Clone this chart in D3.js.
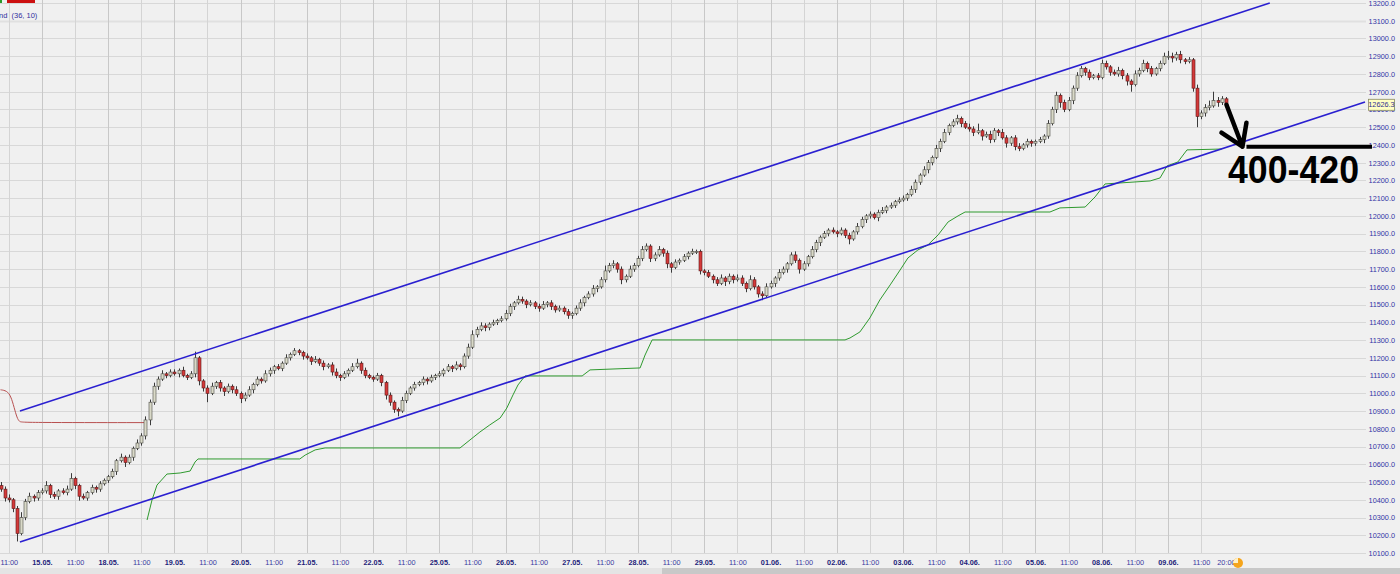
<!DOCTYPE html>
<html><head><meta charset="utf-8">
<script src="https://cdn.jsdelivr.net/npm/d3@7"></script>
<style>html,body{margin:0;padding:0;background:#f0f0f0;overflow:hidden}svg{display:block}</style>
</head><body><svg id="c" width="1400" height="574"></svg>
<script>
// ---------- DATA ----------
const dayLabels = ["15.05.","18.05.","19.05.","20.05.","21.05.","22.05.","25.05.","26.05.","27.05.","28.05.","29.05.","01.06.","02.06.","03.06.","04.06.","05.06.","08.06.","09.06."];
const hourLabel = "11:00";
const lastLabel = "20:00";
const firstOpen = 10480;
const closesByDay = [
 [10460,10410,10400,10350,10210,10300,10390,10420,10410,10440],
 [10450,10480,10430,10420,10450,10440,10460,10520,10480,10420,10410,10440,10470,10460,10490,10510],
 [10530,10560,10620,10640,10610,10640,10690,10720,10760,10850,10950,11040,11080,11110,11100,11120],
 [11110,11130,11100,11090,11110,11200,11070,11030,11000,11040,11060,11030,11010,11040,11020,11000],
 [10970,10990,11020,11050,11080,11070,11110,11130,11150,11140,11170,11200,11220,11240,11230,11210],
 [11200,11180,11190,11170,11150,11160,11120,11100,11090,11110,11130,11150,11170,11130,11100,11090],
 [11080,11100,11060,10990,10950,10910,10900,10960,11000,11030,11050,11060,11080,11070,11090,11100],
 [11110,11130,11150,11140,11160,11150,11210,11260,11330,11360,11380,11370,11390,11400,11410,11420],
 [11450,11490,11510,11530,11520,11500,11510,11490,11480,11500,11510,11490,11470,11480,11460,11440],
 [11450,11480,11510,11540,11560,11590,11600,11640,11690,11720,11730,11700,11640,11660,11700,11720],
 [11760,11810,11830,11760,11780,11810,11790,11730,11710,11740,11750,11770,11790,11800,11800,11690],
 [11680,11660,11640,11620,11650,11630,11660,11640,11650,11620,11590,11640,11600,11560,11550,11600],
 [11620,11650,11680,11700,11730,11780,11750,11700,11730,11770,11810,11850,11880,11900,11920,11910],
 [11900,11920,11890,11870,11910,11940,11980,12000,12010,11990,12020,12030,12050,12060,12080,12090],
 [12100,12120,12150,12190,12230,12260,12300,12330,12380,12420,12470,12510,12530,12550,12520,12500],
 [12490,12470,12480,12450,12460,12430,12480,12470,12440,12410,12440,12390,12380,12400,12420,12410],
 [12420,12430,12450,12520,12600,12680,12640,12600,12650,12720,12790,12830,12810,12780,12790,12780],
 [12860,12840,12810,12800,12820,12790,12760,12740,12800,12820,12860,12830,12800,12830,12860,12900],
 [12900,12890,12910,12880,12870,12880,12720,12560,12580,12610,12620,12650,12640,12660,12626.3]
];
const wickUpByDay = [
 [20,15,20,10,15,30,15,20,10,15],
 [15,25,10,15,10,15,20,30,10,10,15,10,15,10,15,10],
 [10,15,10,20,10,15,10,20,15,20,15,20,15,20,10,15],
 [15,10,20,10,15,35,10,10,15,20,10,15,10,15,10,20],
 [10,15,20,10,15,10,20,15,10,15,10,20,10,15,10,10],
 [15,10,20,10,15,10,15,20,10,15,10,20,25,10,15,10],
 [10,15,10,10,15,10,10,20,15,10,15,10,15,10,15,10],
 [15,10,15,10,20,10,15,20,25,15,20,15,10,15,10,15],
 [20,15,10,20,15,10,15,10,15,20,10,15,10,15,10,15],
 [10,15,20,10,15,20,10,15,30,15,20,10,15,10,20,15],
 [15,20,15,10,15,20,10,15,10,15,10,15,10,15,10,10],
 [10,15,10,15,20,10,15,10,20,15,10,25,15,10,15,20],
 [15,10,20,15,10,15,20,10,15,10,20,15,10,15,10,15],
 [10,15,10,15,10,20,15,10,15,10,15,20,10,15,10,15],
 [15,10,20,15,10,20,15,10,20,15,20,10,15,20,10,15],
 [20,15,40,10,15,20,15,10,20,15,10,15,20,10,15,10],
 [10,15,10,20,15,20,10,15,20,15,20,15,10,15,10,15],
 [20,15,10,15,20,10,15,10,20,15,20,10,15,10,15,20],
 [30,20,15,20,10,15,10,20,15,20,30,50,20,15,10]
];
const wickDownByDay = [
 [15,20,15,20,45,10,15,10,20,15],
 [10,15,20,15,20,10,15,10,20,25,10,15,10,20,15,10],
 [15,10,20,10,25,10,20,10,15,20,30,15,20,10,15,10],
 [10,20,10,15,10,20,25,20,50,10,15,20,25,10,20,15],
 [25,15,10,20,10,15,10,15,20,10,15,10,15,10,15,20],
 [10,20,10,15,20,10,20,15,20,10,15,10,10,20,15,10],
 [15,10,20,25,20,20,30,10,15,10,15,10,15,20,10,15],
 [10,15,10,20,10,20,10,15,10,15,10,20,15,10,15,10],
 [10,15,20,10,15,20,10,15,20,10,15,20,15,10,15,20],
 [20,10,15,20,10,15,20,10,15,10,15,20,25,15,10,15],
 [10,15,10,20,15,10,20,25,30,10,15,10,15,10,15,20],
 [15,10,20,15,10,25,15,20,10,15,20,10,15,20,25,10],
 [10,20,15,10,20,10,15,25,10,15,10,15,20,10,15,10],
 [20,10,15,30,10,15,10,20,15,10,20,10,15,10,15,10],
 [10,15,10,20,15,10,20,15,10,20,10,15,10,15,20,10],
 [15,20,10,25,10,20,15,20,10,25,15,20,15,10,15,20],
 [15,10,20,15,10,20,30,15,10,20,15,10,20,15,10,15],
 [10,15,20,10,15,20,25,40,10,15,10,20,15,10,15,10],
 [20,25,15,20,15,10,20,60,15,20,15,10,25,15,20]
];
// trend channel anchors [bar index, price]
const upperChannel = [[4.7,10900],[306.6,13200]];
const lowerChannel = [[4.7,10162],[329.6,12642]];
// trailing stop lines [bar index, price]
const redStop = [[0,11020],[1.5,11015],[2.5,10985],[3.3,10920],[4,10860],[4.6,10840],[5.2,10835],[35.4,10835]];
const greenStop = [[35.4,10286],[36.6,10399],[37.8,10483],[40.2,10545],[43.4,10551],[45.8,10562],[47,10613],[47.7,10630],[72.3,10630],[73.6,10652],[76,10681],[78.4,10692],[111,10692],[113.4,10737],[115.8,10782],[118.2,10822],[120.7,10861],[122.3,10917],[123.8,10991],[125,11047],[126.7,11098],[140.5,11098],[142.4,11132],[154.5,11143],[155.7,11216],[157.4,11301],[204,11301],[205.2,11312],[207.6,11346],[210,11425],[212.4,11526],[214.9,11611],[217.3,11695],[219.2,11763],[221.6,11808],[224,11836],[226.5,11893],[228.9,11966],[231.3,12000],[233,12022],[253.5,12022],[255.9,12045],[262,12050],[264.4,12107],[266.8,12180],[277.7,12197],[280.1,12214],[281.8,12282],[284.4,12304],[286.6,12372],[295,12377]];
const yTicks = [10100,10200,10300,10400,10500,10600,10700,10800,10900,11000,11100,11200,11300,11400,11500,11600,11700,11800,11900,12000,12100,12200,12300,12400,12500,12600,12700,12800,12900,13000,13100,13200];
const lastPrice = 12626.3;
const legendText = "nd  (36, 10)";
const annotationText = "400-420";
const annotationLevel = 12390;

// ---------- BUILD ----------
const closes = closesByDay.flat();
const wu = wickUpByDay.flat(), wd = wickDownByDay.flat();
const candles = closes.map((c,i)=>{
  const o = i===0 ? firstOpen : closes[i-1];
  return {i, o, c, h: Math.max(o,c)+wu[i], l: Math.min(o,c)-wd[i]};
});
const firstDayBars = closesByDay[0].length, barsPerDay = closesByDay[1].length;

const svg = d3.select("#c");
const x = d3.scaleLinear().domain([0,329.6]).range([0.5,1365]);
const y = d3.scaleLinear().domain([10100,13200]).range([553,3]);

svg.append("rect").attr("width",1400).attr("height",574).attr("fill","#f0f0f0");

// x tick positions
const xTicks = [{i:firstDayBars-8, t:hourLabel, bold:false}];
dayLabels.forEach((d,k)=>{
  const s = firstDayBars + k*barsPerDay;
  xTicks.push({i:s, t:d, bold:true});
  xTicks.push({i:s+8, t:hourLabel, bold:false});
});
xTicks.push({i:closes.length-1, t:lastLabel, bold:false, last:true});

// grid
const g = svg.append("g");
g.selectAll("line.h").data(yTicks).join("line").attr("class","h")
  .attr("x1",0).attr("x2",1366).attr("y1",d=>Math.round(y(d))+0.5).attr("y2",d=>Math.round(y(d))+0.5)
  .attr("stroke",(d)=>d===13100?"#e0e0e0":"#d8d8d8").attr("stroke-width",d=>d===13100?2:1);
g.selectAll("line.v").data(xTicks.filter(d=>!d.last)).join("line").attr("class","v")
  .attr("x1",d=>Math.round(x(d.i))+0.5).attr("x2",d=>Math.round(x(d.i))+0.5).attr("y1",0).attr("y2",553)
  .attr("stroke",d=>d.bold?"#c8c8c8":"#d4d4d4");

// y axis
const ya = svg.append("g").attr("transform","translate(1395,0)")
  .call(d3.axisLeft(y).tickValues(yTicks).tickFormat(d=>d.toFixed(1)).tickSize(0).tickPadding(0));
ya.select(".domain").remove();
ya.selectAll("text").attr("fill","#3535a5").style("font","7.3px 'Liberation Sans', Arial, sans-serif");

// x axis
const xa = svg.append("g").attr("transform","translate(0,553)")
  .call(d3.axisBottom(x).tickValues(xTicks.map(d=>d.i)).tickFormat((d,k)=>xTicks[k].t).tickSize(0).tickPadding(7));
xa.select(".domain").remove();
xa.selectAll("text").attr("fill",(d,k)=>xTicks[k].bold?"#1e1e7a":"#3a3aa0")
  .style("font",(d,k)=>(xTicks[k].bold?"bold ":"")+"7.3px 'Liberation Sans', Arial, sans-serif");

// stops
const line = d3.line().x(d=>x(d[0])).y(d=>y(d[1]));
svg.append("path").attr("d",line.curve(d3.curveBasis)(redStop)).attr("fill","none").attr("stroke","#b85050").attr("stroke-width",1);
svg.append("path").attr("d",d3.line().x(d=>x(d[0])).y(d=>y(d[1]))(greenStop)).attr("fill","none").attr("stroke","#2f9a2f").attr("stroke-width",1);

// candles
const cg = svg.append("g");
cg.selectAll("line").data(candles).join("line")
  .attr("x1",d=>Math.round(x(d.i))+0.5).attr("x2",d=>Math.round(x(d.i))+0.5)
  .attr("y1",d=>y(d.h)).attr("y2",d=>y(d.l)).attr("stroke","#3a3a3a").attr("stroke-width",1);
cg.selectAll("rect").data(candles).join("rect")
  .attr("x",d=>Math.round(x(d.i))-1).attr("width",3)
  .attr("y",d=>y(Math.max(d.o,d.c))).attr("height",d=>Math.max(1,Math.abs(y(d.o)-y(d.c))))
  .attr("fill",d=>d.c>=d.o?"#d9d9c8":"#d43a3a").attr("stroke",d=>d.c>=d.o?"#4a4a44":"#5a1a1a").attr("stroke-width",0.6);

// channels
[upperChannel, lowerChannel].forEach(c=>{
  svg.append("path").attr("d",d3.line().x(d=>x(d[0])).y(d=>y(d[1]))(c)).attr("fill","none")
    .attr("stroke","#2a1fd0").attr("stroke-width",1.6);
});

// last price tag
const ty = y(lastPrice);
svg.append("rect").attr("x",1368.5).attr("y",ty-5.5).attr("width",26).attr("height",11).attr("fill","#ffffc4").attr("stroke","#8a8a60").attr("stroke-width",0.8);
svg.append("text").attr("x",1381.5).attr("y",ty+2.6).attr("text-anchor","middle").attr("fill","#303090")
  .style("font","7.3px 'Liberation Sans', Arial, sans-serif").text(lastPrice.toFixed(1));

// annotation
const ay = y(annotationLevel);
const tipX = x(300);
svg.append("line").attr("x1",tipX+4).attr("x2",1372).attr("y1",ay).attr("y2",ay).attr("stroke","#000").attr("stroke-width",4);
svg.append("path").attr("d",`M${tipX-16},${ay-42} L${tipX},${ay} M${tipX-21},${ay-14} L${tipX},${ay} L${tipX+4},${ay-24}`)
  .attr("fill","none").attr("stroke","#000").attr("stroke-width",4.5).attr("stroke-linecap","round").attr("stroke-linejoin","round");
svg.append("text").attr("x",1228).attr("y",ay+36).attr("fill","#000")
  .attr("textLength",131).attr("lengthAdjust","spacingAndGlyphs")
  .style("font","bold 38px 'Liberation Sans', Arial, sans-serif").text(annotationText);

// top-left legend
svg.append("rect").attr("x",0).attr("y",0).attr("width",2).attr("height",3).attr("fill","#2a9a2a");
svg.append("rect").attr("x",7).attr("y",0).attr("width",28).attr("height",3).attr("fill","#cc1010");
svg.append("text").attr("x",-1).attr("y",18).attr("fill","#3030a0").style("font","7.5px 'Liberation Sans', Arial, sans-serif").attr("xml:space","preserve").text(legendText);

// bottom scrollbar
svg.append("rect").attr("x",0).attr("y",568).attr("width",1400).attr("height",6).attr("fill","#e4e4e4");
svg.append("rect").attr("x",662).attr("y",568).attr("width",738).attr("height",6).attr("fill","#c8c8c8");

// orange icon
const ix = 1238, iy = 563;
svg.append("circle").attr("cx",ix).attr("cy",iy).attr("r",5).attr("fill","#f5a51c");
svg.append("path").attr("d",`M${ix},${iy} L${ix},${iy-5} A5,5 0 0,0 ${ix-5},${iy} Z`).attr("fill","#fff1c8");
</script></body></html>
